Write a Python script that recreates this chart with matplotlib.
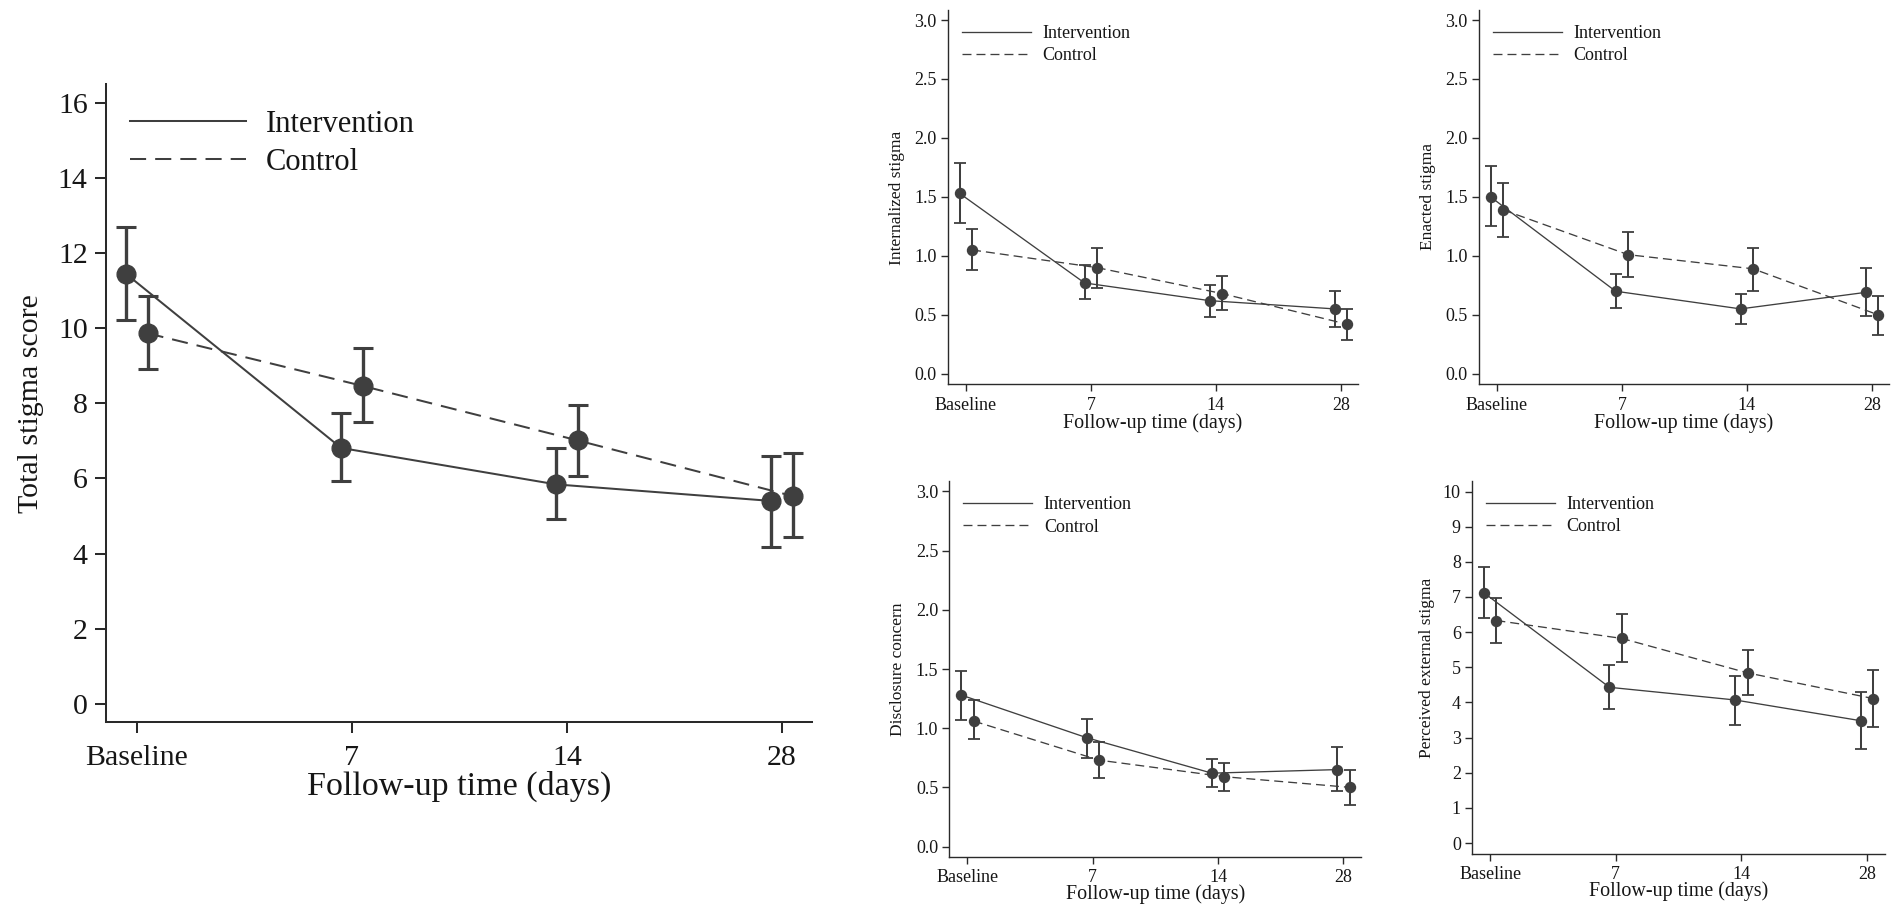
import matplotlib.pyplot as plt
import numpy as np

plt.rcParams['font.family'] = ['Liberation Serif', 'DejaVu Serif']

timepoints = ["Baseline", "7", "14", "28"]
groups = ["Intervention", "Control"]

# Total stigma score (mean, lower CI, upper CI)
total_int = [11.44, 6.81, 5.84, 5.40]
total_int_lo = [10.21, 5.93, 4.92, 4.18]
total_int_hi = [12.68, 7.74, 6.80, 6.60]
total_ctl = [9.86, 8.46, 7.01, 5.53]
total_ctl_lo = [8.90, 7.49, 6.06, 4.43]
total_ctl_hi = [10.84, 9.47, 7.96, 6.68]

# Internalized stigma
intern_int = [1.53, 0.77, 0.62, 0.55]
intern_int_lo = [1.28, 0.63, 0.48, 0.40]
intern_int_hi = [1.79, 0.92, 0.75, 0.70]
intern_ctl = [1.05, 0.90, 0.68, 0.42]
intern_ctl_lo = [0.88, 0.73, 0.54, 0.29]
intern_ctl_hi = [1.23, 1.07, 0.83, 0.55]

# Enacted stigma
enact_int = [1.50, 0.70, 0.55, 0.69]
enact_int_lo = [1.25, 0.56, 0.42, 0.49]
enact_int_hi = [1.76, 0.85, 0.68, 0.90]
enact_ctl = [1.39, 1.01, 0.89, 0.50]
enact_ctl_lo = [1.16, 0.82, 0.70, 0.33]
enact_ctl_hi = [1.62, 1.20, 1.07, 0.66]

# Disclosure concern
discl_int = [1.28, 0.92, 0.62, 0.65]
discl_int_lo = [1.07, 0.75, 0.50, 0.47]
discl_int_hi = [1.48, 1.08, 0.74, 0.84]
discl_ctl = [1.06, 0.73, 0.59, 0.50]
discl_ctl_lo = [0.91, 0.58, 0.47, 0.35]
discl_ctl_hi = [1.24, 0.88, 0.71, 0.65]

# Perceived external stigma
perc_int = [7.12, 4.43, 4.07, 3.48]
perc_int_lo = [6.41, 3.81, 3.37, 2.67]
perc_int_hi = [7.85, 5.06, 4.76, 4.30]
perc_ctl = [6.33, 5.82, 4.84, 4.11]
perc_ctl_lo = [5.70, 5.16, 4.21, 3.30]
perc_ctl_hi = [6.96, 6.51, 5.48, 4.93]

W, H = 1901, 917
INK = '#3f3f3f'
TXT = '#161616'

big = dict(ms=13.5, elw=2.4, cap=7.2, capt=2.2, lw=1.45, dash=(8, 4.5), spine=1.45,
           ticklen=8, tick_fs=21.5, xpad=8.5, ypad=5, xlab_fs=24.5, ylab_fs=21.5, leg_fs=22)
small = dict(ms=7.2, elw=1.45, cap=4.3, capt=1.3, lw=0.95, dash=(6.8, 3.8), spine=1.0,
             ticklen=5, tick_fs=13, xpad=4, ypad=3, xlab_fs=14.4, ylab_fs=12.5, leg_fs=13)


def px_axes(fig, left, top, right, bottom):
    return fig.add_axes([left / W, (H - bottom) / H, (right - left) / W, (bottom - top) / H])


def draw_panel(ax, box, series, ylabel, yticks, yfmt, ylim, ylab_px, xlab_y, s):
    left, top, right, bottom = box
    x = np.arange(len(timepoints))
    for (mean, lo, hi), name, shift in zip(series, groups, [-0.05, 0.05]):
        mean, lo, hi = np.array(mean), np.array(lo), np.array(hi)
        xs = x + shift
        ax.errorbar(xs, mean, yerr=[mean - lo, hi - mean], fmt='none', ecolor=INK,
                    elinewidth=s['elw'], capsize=s['cap'], capthick=s['capt'], zorder=2)
        line, = ax.plot(xs, mean, color=INK, lw=s['lw'], label=name, zorder=3)
        if name == "Control":
            line.set_dashes(s['dash'])
        ax.plot(xs, mean, 'o', color=INK, ms=s['ms'], mec=INK, zorder=4)

    ax.set_xlim(-0.145, 3.14)
    ax.set_ylim(*ylim)
    ax.set_xticks(x)
    ax.set_xticklabels(timepoints)
    ax.set_yticks(yticks)
    ax.set_yticklabels([yfmt % v for v in yticks])
    for side in ['top', 'right']:
        ax.spines[side].set_visible(False)
    for side in ['left', 'bottom']:
        ax.spines[side].set_linewidth(s['spine'])
        ax.spines[side].set_color('#2a2a2a')
    ax.tick_params(length=s['ticklen'], width=s['spine'], color='#2a2a2a',
                   labelsize=s['tick_fs'], labelcolor=TXT)
    ax.tick_params(axis='x', pad=s['xpad'])
    ax.tick_params(axis='y', pad=s['ypad'])

    ax.set_xlabel("Follow-up time (days)", fontsize=s['xlab_fs'], color=TXT)
    ax.xaxis.label.set_va('center')
    ax.xaxis.set_label_coords(0.5, (bottom - xlab_y) / (bottom - top))
    ax.set_ylabel(ylabel, fontsize=s['ylab_fs'], color=TXT)
    ax.yaxis.label.set_va('center')
    ax.yaxis.set_label_coords((ylab_px[0] - left) / (right - left),
                              (bottom - ylab_px[1]) / (bottom - top))

    ax.legend(loc='upper left', bbox_to_anchor=(0.034, 0.96), frameon=False,
              fontsize=s['leg_fs'], handlelength=3.82, handletextpad=0.64,
              labelspacing=0.29, borderpad=0, borderaxespad=0, labelcolor=TXT)


fig = plt.figure(figsize=(W / 100, H / 100), dpi=100)

panels = [
    ((105.7, 84.5, 812, 722.3),
     [(total_int, total_int_lo, total_int_hi), (total_ctl, total_ctl_lo, total_ctl_hi)],
     "Total stigma score", np.arange(0, 17, 2), '%d', (-0.49, 16.48), (31, 404), 786.7, big),
    ((947.7, 10, 1358.3, 384),
     [(intern_int, intern_int_lo, intern_int_hi), (intern_ctl, intern_ctl_lo, intern_ctl_hi)],
     "Internalized stigma", np.arange(0, 3.01, 0.5), '%.1f', (-0.087, 3.085), (897, 198), 422.7, small),
    ((1478.7, 10, 1889.3, 384),
     [(enact_int, enact_int_lo, enact_int_hi), (enact_ctl, enact_ctl_lo, enact_ctl_hi)],
     "Enacted stigma", np.arange(0, 3.01, 0.5), '%.1f', (-0.087, 3.085), (1428, 197), 423, small),
    ((949.3, 481.4, 1361, 856.6),
     [(discl_int, discl_int_lo, discl_int_hi), (discl_ctl, discl_ctl_lo, discl_ctl_hi)],
     "Disclosure concern", np.arange(0, 3.01, 0.5), '%.1f', (-0.085, 3.085), (898, 669), 894, small),
    ((1471.9, 481, 1884.5, 853.9),
     [(perc_int, perc_int_lo, perc_int_hi), (perc_ctl, perc_ctl_lo, perc_ctl_hi)],
     "Perceived external stigma", np.arange(0, 11, 1), '%d', (-0.31, 10.3), (1427, 667.6), 891.5, small),
]

for box, series, ylabel, yticks, yfmt, ylim, ylab_px, xlab_y, s in panels:
    ax = px_axes(fig, *box)
    draw_panel(ax, box, series, ylabel, yticks, yfmt, ylim, ylab_px, xlab_y, s)

fig.savefig('out.png', dpi=100, facecolor='white')
